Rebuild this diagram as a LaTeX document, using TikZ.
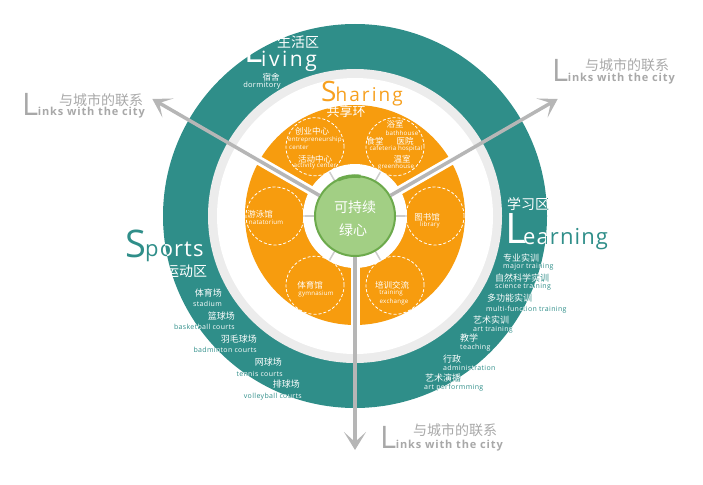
\documentclass[tikz,border=0pt]{standalone}
\usepackage{fontspec}
\setmainfont{Open Sans}
\newfontfamily\cjk{Noto Sans CJK SC}
\usetikzlibrary{arrows.meta}
\definecolor{teal1}{RGB}{47,142,137}
\definecolor{orng}{RGB}{247,156,14}
\definecolor{shorng}{RGB}{247,160,30}
\definecolor{ringgray}{RGB}{236,236,236}
\definecolor{greenfill}{RGB}{162,207,132}
\definecolor{greenline}{RGB}{108,170,76}
\definecolor{arrowgray}{RGB}{182,182,182}
\definecolor{linkgray}{RGB}{168,168,168}
\definecolor{spokegray}{RGB}{205,205,205}
\tikzset{
  zh/.style={font=\cjk\fontsize{9}{10}\selectfont, inner sep=0pt},
  en/.style={font=\fontsize{7}{8}\selectfont\addfontfeatures{LetterSpace=5}, inner sep=0pt},
  czh/.style={font=\cjk\fontsize{8.5}{9}\selectfont, inner sep=0pt, text=white},
  cen/.style={font=\fontsize{6.2}{7}\selectfont\addfontfeatures{LetterSpace=3}, inner sep=0pt, text=white},
  bigzh/.style={font=\cjk\fontsize{14}{14}\selectfont, inner sep=0pt},
  wt/.style={text=white, inner sep=0pt},
  dcirc/.style={circle, draw=white, line width=0.8pt, dash pattern=on 3pt off 2pt, minimum size=58pt, inner sep=0pt},
  corestyle/.style={circle, fill=greenfill, draw=greenline, line width=2pt, minimum size=80pt, inner sep=0pt},
  casing/.style={draw=white, line width=9pt},
  spoke/.style={draw=spokegray, line width=1.5pt},
  arrowline/.style={draw=arrowgray, line width=3.5pt, -{Stealth[length=18pt, width=22pt, inset=10pt]}},
  linkE/.style={text=linkgray, inner sep=0pt, anchor=base west},
  linkZ/.style={bigzh, text=linkgray},
}
\newcommand\linkstext{{\fontsize{31}{31}\selectfont L}\hspace{-0.5pt}{\bfseries\fontsize{11}{11}\selectfont\addfontfeatures{LetterSpace=8}inks with the city}}
% labels that cross the outer edge of the teal ring: teal outside, white on the ring
\newcommand\ringlabels[1]{%
  \node[rt, bigzh] (learnZ#1) at (528,204) {学习区};
  \node[rt, anchor=base west, font=\fontsize{22}{22}\selectfont\addfontfeatures{LetterSpace=5}] (learnW#1) at (523,244) {earning};
  \node[rt, anchor=base west, font=\fontsize{22}{22}\selectfont\addfontfeatures{LetterSpace=5}] (sportW#1) at (145,256) {ports};
  \node[rt, en, anchor=base east] (s2e#1) at (235,329) {basketball courts};
  \node[rt, en, anchor=base east] (s3e#1) at (257,352) {badminton courts};
  \node[rt, en, anchor=base east] (s4e#1) at (283,376) {tennis courts};
  \node[rt, en, anchor=base east] (s5e#1) at (302,398) {volleyball courts};
  \node[rt, en, anchor=base west] (l1e#1) at (503,268) {major training};
  \node[rt, zh, anchor=west] (l2z#1) at (495,278) {自然科学实训};
  \node[rt, en, anchor=base west] (l2e#1) at (495,288) {science training};
  \node[rt, zh, anchor=west] (l3z#1) at (487,298) {多功能实训};
  \node[rt, en, anchor=base west] (l3e#1) at (486,311) {multi-function training};
  \node[rt, en, anchor=base west] (l4e#1) at (473,331) {art training};
  \node[rt, en, anchor=base west] (l5e#1) at (460,349) {teaching};
  \node[rt, en, anchor=base west] (l6e#1) at (443,370) {administration};
  \node[rt, zh, anchor=west] (l7z#1) at (425,378) {艺术演播};
  \node[rt, en, anchor=base west] (l7e#1) at (424,389) {art performming};
}
\begin{document}
\begin{tikzpicture}[x=1pt, y=-1pt]
\useasboundingbox (0,0) rectangle (703,484);
\coordinate (C) at (355,216);
\coordinate (Co) at (355,215);
% rings
\fill[teal1] (C) circle (192);
\fill[ringgray] (C) circle (147);
\fill[white] (C) circle (138);
\fill[orng] (Co) circle (110);
% arrow coordinates
\path (C) ++(210:234) coordinate (tipUL);
\path (C) ++(-30:234) coordinate (tipUR);
\path (C) ++(90:234) coordinate (tipD);
\path (C) ++(210:114) coordinate (gapUL);
\path (C) ++(-30:114) coordinate (gapUR);
\path (C) ++(90:114) coordinate (gapD);
% white gaps through the orange ring
\draw[casing] (C) -- (gapUL);
\draw[casing] (C) -- (gapUR);
\draw[casing] (C) -- (gapD);
% inner white disc and spokes
\fill[white] (C) circle (52);
\foreach \a in {0,60,120,180,240,300}{
  \path (C) ++(\a:52) coordinate (spk\a);
  \draw[spoke] (C) -- (spk\a);
}
% green core
\node[corestyle] (core) at (C) {};
\draw[greenline, line width=3.5pt] (C) ++(-115:40) arc[start angle=-115, end angle=-82, radius=40];
\node[font=\cjk\fontsize{14}{14}\selectfont, text=white, inner sep=0pt] (coreA) at (355,207) {可持续};
\node[font=\cjk\fontsize{14}{14}\selectfont, text=white, inner sep=0pt] (coreB) at (353,230) {绿心};
% dashed circles
\foreach \a/\n in {0/cR,60/cLR,120/cLL,180/cL,240/cUL,300/cUR}{
  \path (C) ++(\a:80) node[dcirc] (\n) {};
}
% circle texts
\node[czh] (ulA) at (312,131) {创业中心};
\node[cen] (ulB) at (315,140) {entrepreneurship};
\node[cen, anchor=west] (ulC) at (289,147) {center};
\node[czh] (ulD) at (315,159) {活动中心};
\node[cen] (ulE) at (315,166) {activity center};
\node[czh] (urA) at (395,124) {浴室};
\node[cen] (urB) at (402,133) {bathhouse};
\node[czh] (urC) at (375,141) {食堂};
\node[czh] (urD) at (405,141) {医院};
\node[cen] (urE) at (396,149) {cafeteria hospital};
\node[czh] (urF) at (402,159) {温室};
\node[cen] (urG) at (396,167) {greenhouse};
\node[czh] (lA) at (260,214) {游泳馆};
\node[cen] (lB) at (266,222) {natatorium};
\node[czh] (rA) at (427,217) {图书馆};
\node[cen] (rB) at (430,225) {library};
\node[czh] (llA) at (310,285) {体育馆};
\node[cen] (llB) at (316,294) {gymnasium};
\node[czh] (lrA) at (392,285) {培训交流};
\node[cen] (lrB) at (391,293) {training};
\node[cen] (lrC) at (394,302) {exchange};
% Sharing
\node[anchor=base west, text=shorng, inner sep=0pt] (shW) at (321,102)
  {{\fontsize{28}{28}\selectfont S}\hspace{-1pt}{\fontsize{19}{19}\selectfont\addfontfeatures{LetterSpace=11}haring}};
\node[bigzh, font=\cjk\fontsize{13}{13}\selectfont, text=white] (shZ) at (346,112) {共享环};
% labels lying on the teal ring (white)
\node[wt, anchor=base west, font=\fontsize{35}{35}\selectfont] (livL) at (244,63) {L};
\node[wt, anchor=base west, font=\fontsize{21}{21}\selectfont\addfontfeatures{LetterSpace=12}] (livW) at (261,67) {\smash{iving}};
\node[wt, bigzh] (livZ) at (298,42) {生活区};
\node[wt, zh, font=\cjk\fontsize{8.5}{9}\selectfont] (dormZ) at (271,77) {宿舍};
\node[wt, en, font=\fontsize{7.5}{8}\selectfont\addfontfeatures{LetterSpace=4}] (dormE) at (262,86) {dormitory};
\node[wt, anchor=base west, font=\fontsize{42}{42}\selectfont] (learnL) at (505,243) {L};
\node[anchor=base west, font=\fontsize{38}{38}\selectfont, text=teal1, inner sep=0pt] (sportS) at (125,257) {S};
\node[wt, bigzh] (sportZ) at (186,271) {运动区};
\node[wt, zh, anchor=east] (s1z) at (222,293) {体育场};
\node[wt, en, anchor=base east] (s1e) at (222,306) {stadium};
\node[wt, zh, anchor=east] (s2z) at (235,316) {篮球场};
\node[wt, zh, anchor=east] (s3z) at (257,339) {羽毛球场};
\node[wt, zh, anchor=east] (s4z) at (282,362) {网球场};
\node[wt, zh, anchor=east] (s5z) at (300,384) {排球场};
\node[wt, zh, anchor=west] (l1z) at (503,258) {专业实训};
\node[wt, zh, anchor=west] (l4z) at (473,320) {艺术实训};
\node[wt, zh, anchor=west] (l5z) at (460,338) {教学};
\node[wt, zh, anchor=west] (l6z) at (443,359) {行政};
% labels crossing the ring edge
\begin{scope}[rt/.style={text=teal1, inner sep=0pt}]
  \ringlabels{t}
\end{scope}
\begin{scope}[rt/.style={text=white, inner sep=0pt}]
  \clip (C) circle (192);
  \ringlabels{w}
\end{scope}
% arrows
\draw[arrowline] (core) -- (tipUL);
\draw[arrowline] (core) -- (tipUR);
\draw[arrowline] (core) -- (tipD);
% links labels
\node[linkE] (lkE1) at (22,116) {\linkstext};
\node[linkZ] (lkZ1) at (101,100) {与城市的联系};
\node[linkE] (lkE2) at (552,82) {\linkstext};
\node[linkZ] (lkZ2) at (627,65) {与城市的联系};
\node[linkE] (lkE3) at (380,448) {\linkstext};
\node[linkZ] (lkZ3) at (455,430) {与城市的联系};
\end{tikzpicture}
\end{document}
